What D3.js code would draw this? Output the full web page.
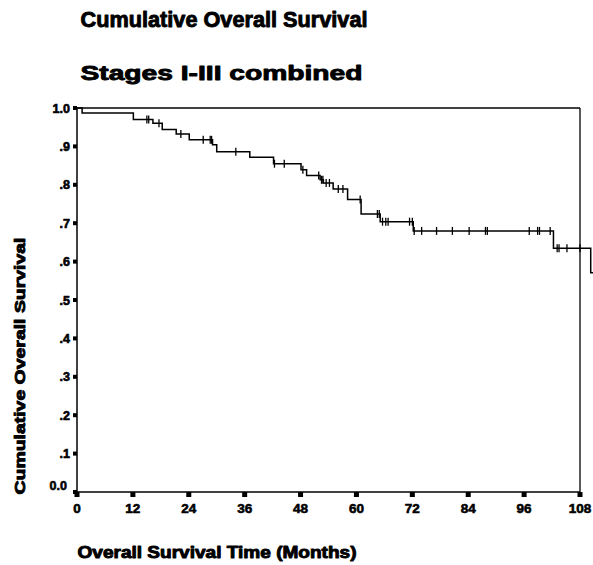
<!DOCTYPE html>
<html><head><meta charset="utf-8">
<script src="https://cdn.jsdelivr.net/npm/d3@7"></script>
<style>body{margin:0;background:#fff}svg{display:block}</style>
</head><body>
<script>
// Data
const stepTimes = [0, 1.1, 12.1, 16.3, 18.3, 21.3, 24.1, 29.1, 30.0, 37.1, 42.2, 48.1, 49.3, 52.2, 52.9, 55.0, 58.1, 61.0, 65.1, 72.2, 102.3, 110.3];
const survival  = [1.0, .987, .970, .960, .944, .932, .917, .904, .886, .872, .855, .839, .824, .813, .805, .789, .762, .724, .704, .680, .635, .571];
const lastTime = 111;
const censorTimes = [15.0, 15.4, 17.6, 22.3, 27.1, 28.6, 28.9, 34.1, 42.4, 44.5, 48.5, 51.9, 52.5, 52.8, 53.5, 54.2, 56.1, 57.1, 60.8, 64.5, 64.9, 65.6, 66.3, 66.8, 71.4, 72.0, 72.4, 74.0, 77.2, 80.6, 84.2, 87.7, 88.1, 97.1, 98.9, 99.3, 101.6, 103.1, 103.5, 105.2, 108.0];
const xTicks = [0, 12, 24, 36, 48, 60, 72, 84, 96, 108];
const yTicks = [0, .1, .2, .3, .4, .5, .6, .7, .8, .9, 1.0];
const yTickLabels = ["0.0", ".1", ".2", ".3", ".4", ".5", ".6", ".7", ".8", ".9", "1.0"];
const title1 = "Cumulative Overall Survival";
const title2 = "Stages I-III combined";
const yTitle = "Cumulative Overall Survival";
const xTitle = "Overall Survival Time (Months)";

const W = 593, H = 565;
const svg = d3.select("body").append("svg").attr("width", W).attr("height", H);
const x = d3.scaleLinear().domain([0, 108]).range([77, 580]);
const y = d3.scaleLinear().domain([0, 1]).range([492, 108]);
const font = "'Liberation Sans', Arial, sans-serif";

function boldText(sel) {
  return sel.attr("font-family", font).attr("font-weight", "bold")
    .attr("fill", "#000").attr("stroke", "#000").attr("stroke-width", 0.9)
    .attr("stroke-linejoin", "round")
    .attr("lengthAdjust", "spacingAndGlyphs");
}

// Titles
boldText(svg.append("text").attr("x", 80.5).attr("y", 27).attr("font-size", 21.5)
  .attr("textLength", 287).attr("stroke-width", 1.1)).text(title1);
boldText(svg.append("text").attr("x", 80.5).attr("y", 80).attr("font-size", 21)
  .attr("textLength", 282).attr("stroke-width", 1.0)).text(title2);
boldText(svg.append("text").attr("transform", "translate(25,366) rotate(-90)")
  .attr("text-anchor", "middle").attr("font-size", 15).attr("textLength", 257)
  .attr("stroke-width", 0.6)).text(yTitle);
boldText(svg.append("text").attr("x", 77.5).attr("y", 558).attr("font-size", 16)
  .attr("textLength", 279).attr("stroke-width", 0.7)).text(xTitle);

// Frame
const g = svg.append("g");
g.append("line").attr("x1", x(0)).attr("x2", x(108)).attr("y1", y(1)).attr("y2", y(1))
  .attr("stroke", "#000").attr("stroke-width", 1.3);
g.append("line").attr("x1", x(108)).attr("x2", x(108)).attr("y1", y(1)).attr("y2", y(0))
  .attr("stroke", "#000").attr("stroke-width", 1.3);
g.append("line").attr("x1", x(0)).attr("x2", x(0)).attr("y1", y(1)).attr("y2", y(0))
  .attr("stroke", "#000").attr("stroke-width", 1.5);
g.append("line").attr("x1", x(0)).attr("x2", x(108)).attr("y1", y(0)).attr("y2", y(0))
  .attr("stroke", "#000").attr("stroke-width", 1.5);

// Y ticks
g.selectAll(".yt").data(yTicks).enter().append("rect")
  .attr("x", x(0) - 4).attr("y", d => y(d) - 2).attr("width", 4).attr("height", 4).attr("fill", "#000");
g.selectAll(".yl").data(yTicks).enter().append("text")
  .attr("x", (d, i) => i === 0 ? 67 : 70)
  .attr("y", (d, i) => y(d) + (i === 0 ? -2 : 4.5))
  .attr("text-anchor", "end").attr("font-family", font).attr("font-weight", "bold")
  .attr("font-size", 12.5).attr("fill", "#000").attr("stroke", "#000").attr("stroke-width", 0.6)
  .text((d, i) => yTickLabels[i]);

// X ticks
g.selectAll(".xt").data(xTicks).enter().append("rect")
  .attr("x", d => x(d) - 2.5).attr("y", y(0)).attr("width", 5).attr("height", 5).attr("fill", "#000");
g.selectAll(".xl").data(xTicks).enter().append("text")
  .attr("x", d => x(d)).attr("y", 513)
  .attr("text-anchor", "middle").attr("font-family", font).attr("font-weight", "bold")
  .attr("font-size", 13.5).attr("fill", "#000").attr("stroke", "#000").attr("stroke-width", 0.6)
  .text(d => d);

// Survival step curve
const pts = stepTimes.map((t, i) => [t, survival[i]]);
pts.push([lastTime, survival[survival.length - 1]]);
const line = d3.line().x(d => x(d[0])).y(d => y(d[1])).curve(d3.curveStepAfter);
g.append("path").attr("d", line(pts)).attr("fill", "none").attr("stroke", "#000").attr("stroke-width", 1.5);

// Censor marks
function survAt(t) {
  let s = survival[0];
  for (let i = 0; i < stepTimes.length; i++) if (stepTimes[i] <= t) s = survival[i];
  return s;
}
g.selectAll(".cm").data(censorTimes).enter().append("line")
  .attr("x1", d => x(d)).attr("x2", d => x(d))
  .attr("y1", d => y(survAt(d)) - 4).attr("y2", d => y(survAt(d)) + 4)
  .attr("stroke", "#000").attr("stroke-width", 1.3);
</script>
</body></html>
